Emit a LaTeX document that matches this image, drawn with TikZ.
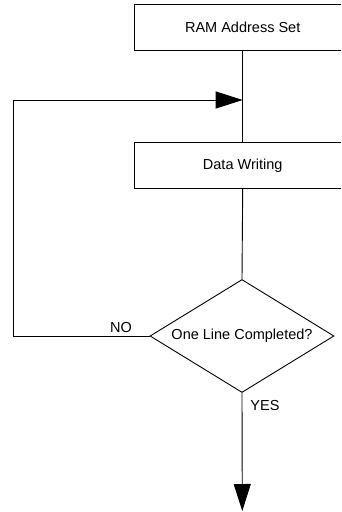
\documentclass[tikz,border=0pt]{standalone}
\usepackage{fontspec}
\setmainfont{Liberation Sans}
\usetikzlibrary{shapes.geometric,arrows.meta}

\tikzset{
  flowbox/.style={draw=black, line width=0.9pt, rectangle, minimum width=216pt,
    minimum height=46pt, inner sep=0pt},
  decision/.style={draw=black, line width=0.9pt, diamond, aspect=1.63,
    minimum width=184pt, minimum height=113pt, inner sep=0pt},
  flowline/.style={draw=black, line width=0.9pt},
  bigtip/.style={-{Triangle[length=27pt,width=17pt]}},
  lbl/.style={inner sep=0pt}
}

\begin{document}
\begin{tikzpicture}[x=1pt, y=-1pt, font=\fontsize{14.5}{17}\selectfont]
  \useasboundingbox (0,0) rectangle (341,512);
  \clip (0,0) rectangle (341,512);

  % process steps
  \node[flowbox] (ramset) at (242.7,27.8) {RAM Address Set};
  \node[flowbox] (write)  at (242.7,165.3) {Data Writing};
  \node[decision] (done)  at (242,336) {One Line Completed?};

  % junction where the loop re-enters, and the exit point
  \coordinate (merge) at (242.7,100);
  \coordinate (loopcorner) at (13.3,336);
  \coordinate (exit) at (242.3,511);

  % main flow
  \draw[flowline] (ramset.south) -- (write.north);
  \draw[flowline] (write.south) -- (done.north);
  \draw[flowline, bigtip] (done.south) -- (exit);

  % NO branch back to the start of the writing step
  \draw[flowline, bigtip] (done.west) -- (loopcorner) |- (merge);

  % branch labels
  \node[lbl] (nolbl)  at (121,327.5) {NO};
  \node[lbl] (yeslbl) at (265,406) {YES};
\end{tikzpicture}
\end{document}
